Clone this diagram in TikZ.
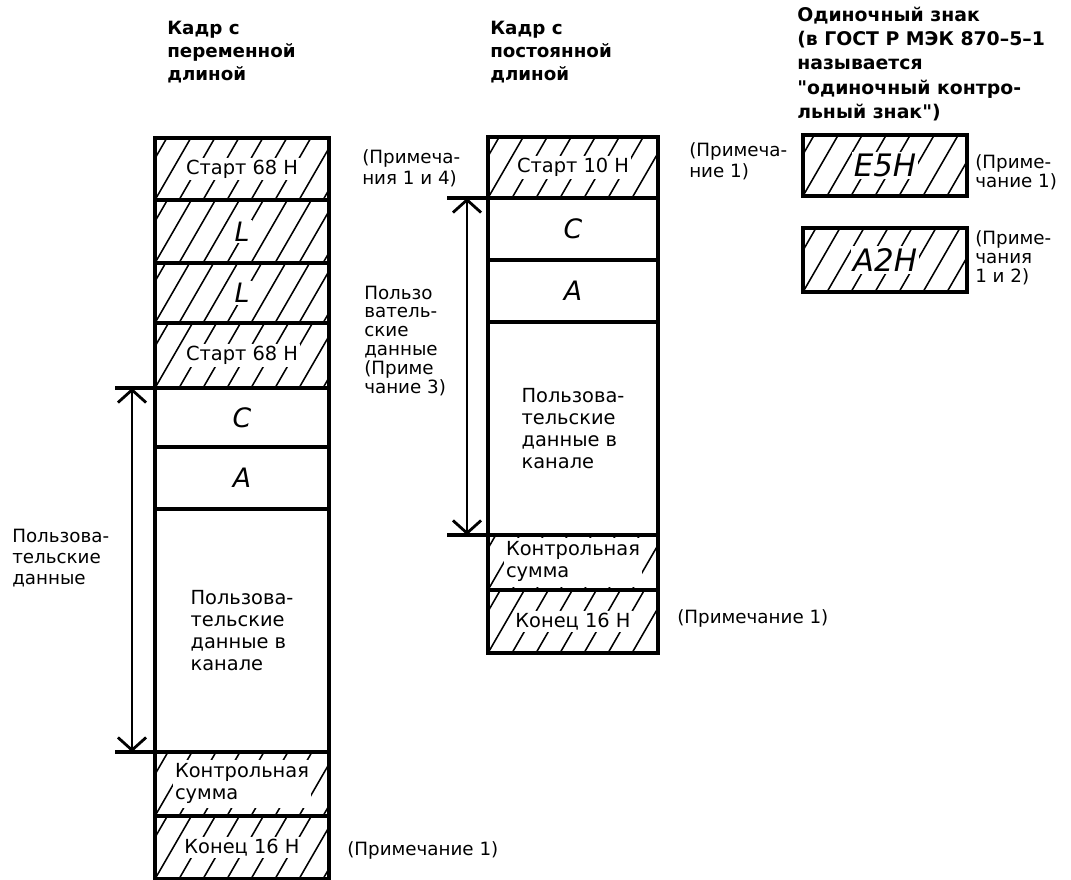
\documentclass[tikz,border=0pt]{standalone}
\usepackage{fontspec}
\setmainfont{DejaVu Sans}
\usetikzlibrary{positioning,calc,arrows.meta}
\newcommand{\pxu}{0.25mm}
\newcommand{\wt}[1]{{\setlength{\fboxsep}{1.5pt}\colorbox{white}{#1}}}
\tikzset{
    cell/.style={draw, line width=2.6pt, outer sep=0pt, inner sep=0pt, align=left,
                 font=\fontsize{13.8}{15.6}\selectfont},
    lcell/.style={cell, minimum width=174*\pxu},
    mcell/.style={cell, minimum width=170*\pxu},
    rcell/.style={cell, minimum width=164*\pxu},
    hatched/.style={path picture={
        \foreach \k in {-2,...,8}
            \draw[line width=1.1pt] ($(path picture bounding box.south west)+(\k*24,0)$) -- ++(60:90);
    }},
    letter/.style={font=\fontsize{19}{20}\selectfont\itshape},
    bigletter/.style={font=\fontsize{22}{24}\selectfont\itshape},
    note/.style={font=\fontsize{13}{15}\selectfont, align=left, inner sep=0pt, anchor=west},
    head/.style={font=\fontsize{13}{16.5}\selectfont\bfseries, align=left, inner sep=0pt, anchor=west},
    tick/.style={line width=2.6pt},
    span/.style={line width=2pt,
                 {Straight Barb[length=9pt,width=20pt]}-{Straight Barb[length=9pt,width=20pt]}},
}

\begin{document}
\begin{tikzpicture}[x=\pxu, y=\pxu]
    \useasboundingbox (0,0) rectangle (1071,-879);

    % Headers
    \node[head] (hVar) at (167,-52) {Кадр с\\переменной\\длиной};
    \node[head] (hFix) at (490,-52) {Кадр с\\постоянной\\длиной};
    \node[head, font=\fontsize{13.4}{17.2}\selectfont\bfseries] (hOne) at (797,-64)
        {Одиночный знак\\(в ГОСТ Р МЭК 870–5–1\\называется\\\textquotedbl одиночный контро-\\льный знак\textquotedbl)};

    % Variable length frame
    \node[lcell, hatched, minimum height=62*\pxu] (lStart) at (242,-169) {\wt{Старт 68 H}};
    \node[lcell, hatched, letter, minimum height=63*\pxu, below=0pt of lStart] (lLenA) {\wt{L}};
    \node[lcell, hatched, letter, minimum height=60*\pxu, below=0pt of lLenA] (lLenB) {\wt{L}};
    \node[lcell, hatched, minimum height=65*\pxu, below=0pt of lLenB] (lStartB) {\wt{Старт 68 H}};
    \node[lcell, letter, minimum height=59*\pxu, below=0pt of lStartB] (lC) {C};
    \node[lcell, letter, minimum height=62*\pxu, below=0pt of lC] (lA) {A};
    \node[lcell, minimum height=243*\pxu, below=0pt of lA] (lData) {Пользова-\\тельские\\данные в\\канале};
    \node[lcell, hatched, minimum height=64*\pxu, below=0pt of lData] (lSum)
        {\wt{\begin{tabular}{@{}l@{}}Контрольная\\сумма\end{tabular}}};
    \node[lcell, hatched, minimum height=63*\pxu, below=0pt of lSum] (lEnd) {\wt{Конец 16 H}};

    \draw[tick] (lC.north west) -- ++(-40,0);
    \draw[tick] (lData.south west) -- ++(-40,0);
    \draw[span] ($(lC.north west)+(-23,0)$) -- ($(lData.south west)+(-23,0)$);
    \node[note] (lUser) at (12,-558) {Пользова-\\тельские\\данные};

    \node[note] (nStart) at (362,-168) {(Примеча-\\ния 1 и 4)};
    \node[note] (nEndL) at (347,-850) {(Примечание 1)};

    % Fixed length frame
    \node[mcell, hatched, minimum height=61*\pxu] (mStart) at (573,-167.5) {\wt{Старт 10 H}};
    \node[mcell, letter, minimum height=62*\pxu, below=0pt of mStart] (mC) {C};
    \node[mcell, letter, minimum height=62*\pxu, below=0pt of mC] (mA) {A};
    \node[mcell, minimum height=213*\pxu, below=0pt of mA] (mData) {Пользова-\\тельские\\данные в\\канале};
    \node[mcell, hatched, minimum height=55*\pxu, below=0pt of mData] (mSum)
        {\wt{\begin{tabular}{@{}l@{}}Контрольная\\сумма\end{tabular}}};
    \node[mcell, hatched, minimum height=63*\pxu, below=0pt of mSum] (mEnd) {\wt{Конец 16 H}};

    \draw[tick] (mC.north west) -- ++(-41,0);
    \draw[tick] (mData.south west) -- ++(-41,0);
    \draw[span] ($(mC.north west)+(-21,0)$) -- ($(mData.south west)+(-21,0)$);
    \node[note, font=\fontsize{13}{13.5}\selectfont] (mUser) at (364,-341)
        {Пользо\\ватель-\\ские\\данные\\(Приме\\чание 3)};

    \node[note] (nStartM) at (689,-161) {(Примеча-\\ние 1)};
    \node[note] (nEndM) at (677,-618) {(Примечание 1)};

    % Single characters
    \node[rcell, hatched, bigletter, minimum height=61*\pxu] (rE5) at (885,-165.5) {\wt{E5H}};
    \node[rcell, hatched, bigletter, minimum height=64*\pxu] (rA2) at (885,-260) {\wt{A2H}};
    \node[note, font=\fontsize{13}{13.5}\selectfont] (nE5) at (975,-172) {(Приме-\\чание 1)};
    \node[note, font=\fontsize{13}{13.5}\selectfont] (nA2) at (975,-258) {(Приме-\\чания\\1 и 2)};
\end{tikzpicture}
\end{document}
